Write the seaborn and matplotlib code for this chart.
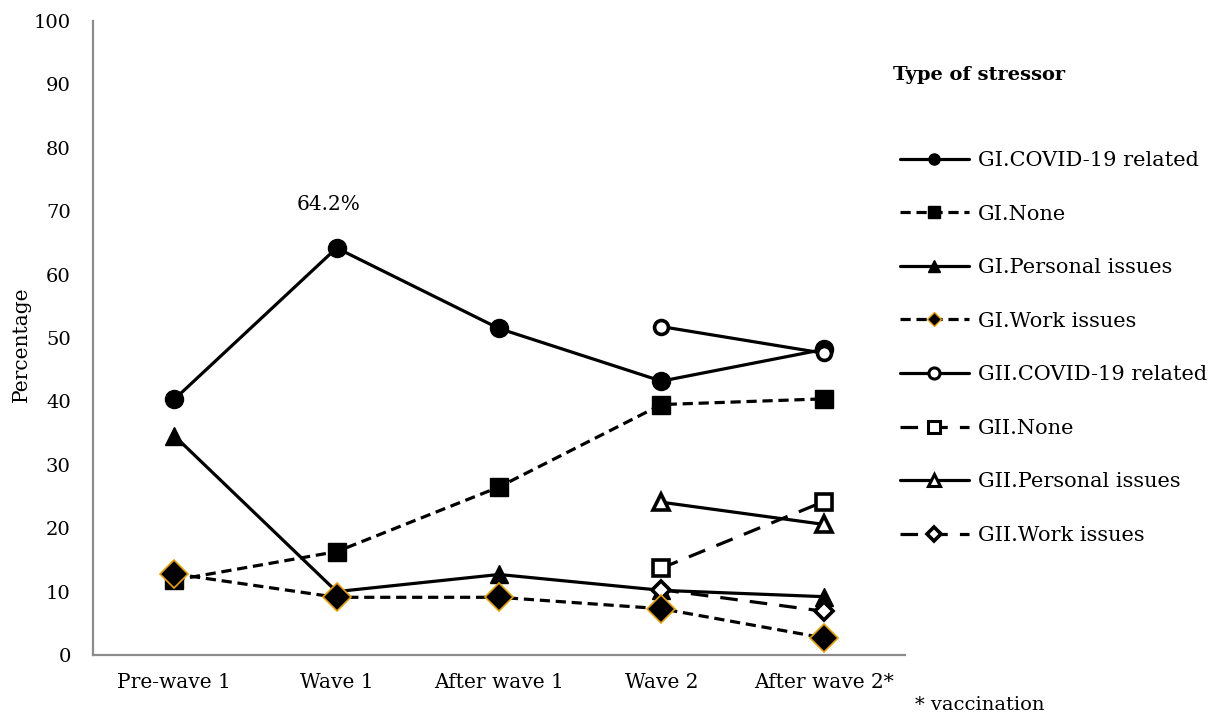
import matplotlib
matplotlib.use("Agg")
import matplotlib.pyplot as plt
from matplotlib.lines import Line2D
import seaborn as sns
import pandas as pd

# ---- data ----
periods = ["Pre-wave 1", "Wave 1", "After wave 1", "Wave 2", "After wave 2*"]
gi_covid = [40.3, 64.2, 51.5, 43.2, 48.2]
gi_none = [11.8, 16.3, 26.5, 39.5, 40.4]
gi_personal = [34.6, 10.0, 12.7, 10.2, 9.2]
gi_work = [12.8, 9.1, 9.1, 7.3, 2.7]
gii_periods = ["Wave 2", "After wave 2*"]
gii_covid = [51.8, 47.6]
gii_none = [13.7, 24.2]
gii_personal = [24.1, 20.6]
gii_work = [10.3, 6.9]

sns.set_theme(style="white")
plt.rcParams["font.family"] = ["DejaVu Serif"]
plt.rcParams["text.color"] = "black"
plt.rcParams["axes.labelcolor"] = "black"

fig = plt.figure(figsize=(12.17, 7.18), dpi=100)
ax = fig.add_axes([93 / 1217, 63 / 718, 812 / 1217, 634 / 718])

idx = {p: i for i, p in enumerate(periods)}
ORANGE = "#E9A100"
LW = 2.3
GI_DASH = (3.2, 1.8)
GII_DASH = (5.5, 3.8)

def draw(xlabels, vals, marker, ms, mfc, mec, mew, dashes, z):
    df = pd.DataFrame({"x": [idx[p] for p in xlabels], "y": vals})
    kw = dict(color="black", linewidth=LW, marker=marker, markersize=ms,
              markerfacecolor=mfc, markeredgecolor=mec, markeredgewidth=mew,
              zorder=z)
    if dashes is not None:
        kw["dashes"] = dashes
    sns.lineplot(data=df, x="x", y="y", ax=ax, **kw)

draw(periods, gi_covid, "o", 13, "black", "black", 1, None, 3)
draw(periods, gi_none, "s", 12.5, "black", "black", 1, GI_DASH, 3)
draw(periods, gi_personal, "^", 13, "black", "black", 1, None, 3)
draw(gii_periods, gii_covid, "o", 10, "white", "black", 2.6, None, 3)
draw(gii_periods, gii_none, "s", 11.5, "white", "black", 2.6, GII_DASH, 3)
draw(gii_periods, gii_personal, "^", 12, "white", "black", 2.6, None, 3)
draw(gii_periods, gii_work, "D", 9.5, "white", "black", 2.6, GII_DASH, 3)
draw(periods, gi_work, "D", 14, "black", ORANGE, 1.2, GI_DASH, 4)

FS = 14.5
ax.set_xlim(-0.5, 4.5)
ax.set_ylim(0, 100)
ax.set_xticks(range(len(periods)))
ax.set_xticklabels(periods)
ax.set_yticks(range(0, 101, 10))
ax.tick_params(axis="x", length=0, labelsize=FS, colors="black", pad=13)
ax.tick_params(axis="y", length=0, labelsize=14, colors="black", pad=16)
ax.set_xlabel("")
ax.set_ylabel("")
for s in ["top", "right"]:
    ax.spines[s].set_visible(False)
for s in ["left", "bottom"]:
    ax.spines[s].set_color("#8c8c8c")
    ax.spines[s].set_linewidth(1.6)

fig.text(21 / 1217, 1 - 344 / 718, "Percentage", rotation=90, fontsize=FS,
         ha="center", va="center", color="black")

ax.annotate("64.2%", xy=(1, gi_covid[1]), xytext=(-6, 31),
            textcoords="offset points", ha="center", va="center", fontsize=FS,
            color="black")

# legend
labels = ["GI.COVID-19 related", "GI.None", "GI.Personal issues", "GI.Work issues",
          "GII.COVID-19 related", "GII.None", "GII.Personal issues", "GII.Work issues"]
handles = [
    Line2D([], [], color="black", lw=LW, marker="o", ms=8, mfc="black", mec="black"),
    Line2D([], [], color="black", lw=LW, dashes=GI_DASH, marker="s", ms=8, mfc="black", mec="black"),
    Line2D([], [], color="black", lw=LW, marker="^", ms=8, mfc="black", mec="black"),
    Line2D([], [], color="black", lw=LW, dashes=GI_DASH, marker="D", ms=7, mfc="black", mec=ORANGE, mew=1),
    Line2D([], [], color="black", lw=LW, marker="o", ms=8, mfc="white", mec="black", mew=2.2),
    Line2D([], [], color="black", lw=LW, dashes=GII_DASH, marker="s", ms=8, mfc="white", mec="black", mew=2.2),
    Line2D([], [], color="black", lw=LW, marker="^", ms=8.5, mfc="white", mec="black", mew=2.2),
    Line2D([], [], color="black", lw=LW, dashes=GII_DASH, marker="D", ms=7, mfc="white", mec="black", mew=2.6),
]
leg = ax.legend(handles, labels, loc="upper left", bbox_to_anchor=(900 / 1217, 1 - 151 / 718),
                bbox_transform=fig.transFigure, frameon=False, fontsize=15,
                handlelength=3.3, handletextpad=0.45, labelspacing=1.66, borderpad=0,
                borderaxespad=0)
for t in leg.get_texts():
    t.set_color("black")

fig.text(893 / 1217, 1 - 75 / 718, "Type of stressor", fontsize=14, fontweight="bold",
         ha="left", va="center", color="black")
fig.text(980 / 1217, 1 - 705 / 718, "* vaccination", fontsize=14, ha="center", va="center",
         color="black")

fig.savefig("out.png", dpi=100)
